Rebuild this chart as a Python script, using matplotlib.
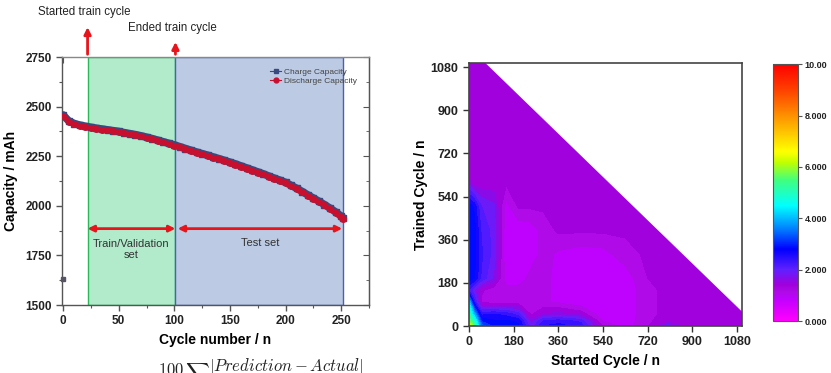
import numpy as np
import matplotlib
matplotlib.use("Agg")
import matplotlib.pyplot as plt
from matplotlib.colors import LinearSegmentedColormap, Normalize
from matplotlib.patches import Polygon
from matplotlib.cm import ScalarMappable
from matplotlib.lines import Line2D

plt.rcParams['font.family'] = ['Liberation Sans', 'DejaVu Sans']

# ---------------- Left chart data ----------------
cycles = [0, 5, 10, 15, 20, 25, 30, 35, 40, 45, 50, 55, 60, 65, 70, 75, 80, 85, 90, 95,
          100, 105, 110, 115, 120, 125, 130, 135, 140, 145, 150, 155, 160, 165, 170, 175,
          180, 185, 190, 195, 200, 205, 210, 215, 220, 225, 230, 235, 240, 245, 250, 252]
discharge_capacity = [2455, 2425, 2412, 2404, 2398, 2393, 2388, 2384, 2380, 2376, 2372, 2366,
                      2361, 2356, 2350, 2343, 2336, 2328, 2320, 2312, 2304, 2295, 2286, 2277,
                      2268, 2260, 2252, 2243, 2235, 2226, 2217, 2208, 2198, 2188, 2178, 2168,
                      2158, 2147, 2136, 2126, 2115, 2100, 2085, 2069, 2052, 2036, 2020, 2003,
                      1985, 1966, 1945, 1935]
charge_capacity = [2458, 2428, 2415, 2407, 2401, 2396, 2391, 2387, 2383, 2379, 2375, 2369,
                   2364, 2359, 2353, 2346, 2339, 2331, 2323, 2315, 2307, 2298, 2289, 2280,
                   2271, 2263, 2255, 2246, 2238, 2229, 2220, 2211, 2201, 2191, 2181, 2171,
                   2161, 2150, 2139, 2129, 2118, 2103, 2088, 2072, 2055, 2039, 2023, 2006,
                   1988, 1969, 1948, 1938]
outlier_cycle = [0]
outlier_capacity = [1630]
train_start, train_end, test_end = 22, 101, 252
left_yticks = [1500, 1750, 2000, 2250, 2500, 2750]
left_xticks = [0, 50, 100, 150, 200, 250]

# ---------------- Right chart data ----------------
started = [0, 20, 50, 100, 150, 200, 250, 300, 360, 450, 540, 630, 720, 800, 900, 1000, 1100, 1170]
trained = [0, 20, 50, 100, 150, 200, 300, 400, 500, 600, 700, 800, 900, 1000, 1100]
D = 1.3
mape = [
    [6.6, 5.6, 3.4, 2.9, 2.9, 2.8, 1.8, 2.5, 2.6, 2.4, 1.2, 0.9, 1.2, 1.9, D, D, D, D],
    [5.8, 5.0, 3.0, 2.8, 2.8, 2.7, 1.6, 2.3, 2.4, 2.2, 1.0, 0.85, 1.2, 1.4, D, D, D, D],
    [5.2, 4.0, 2.4, 2.5, 2.4, 2.1, 1.2, 1.5, 1.6, 1.4, 0.8, 0.8, 1.2, D, D, D, D, D],
    [4.2, 2.4, 1.2, 1.1, 1.1, 1.1, 1.1, 1.05, 0.95, 0.8, 0.8, 0.8, 1.2, D, D, D, D, D],
    [2.2, 1.8, 1.3, 1.1, 1.1, 1.1, 1.1, 1.05, 0.95, 0.8, 0.8, 0.8, 1.2, D, D, D, D, D],
    [2.9, 2.8, 2.2, 1.7, 0.85, 0.85, 1.1, 1.1, 0.9, 0.8, 0.8, 0.85, 1.25, D, D, D, D, D],
    [3.0, 2.9, 2.3, 1.9, 0.8, 0.8, 0.85, 1.1, 0.95, 0.85, 0.9, 1.15, D, D, D, D, D, D],
    [3.0, 2.9, 2.2, 1.9, 0.8, 0.8, 0.85, 1.1, D, D, D, D, D, D, D, D, D, D],
    [2.9, 2.7, 2.0, 1.8, 0.9, D, D, D, D, D, D, D, D, D, D, D, D, D],
    [1.6, D, D, D, D, D, D, D, D, D, D, D, D, D, D, D, D, D],
    [D] * 18,
    [D] * 18,
    [D] * 18,
    [D] * 18,
    [D] * 18,
]
right_ticks = [0, 180, 360, 540, 720, 900, 1080]
cbar_ticks = [0, 2, 4, 6, 8, 10]
cbar_labels = ["0.000", "2.000", "4.000", "6.000", "8.000", "10.00"]

# ---------------- Figure ----------------
fig = plt.figure(figsize=(8.31, 3.73), dpi=100)

ax = fig.add_axes([0.0746, 0.1823, 0.3694, 0.6647])
ax.set_xlim(-1, 275)
ax.set_ylim(1500, 2750)
ax.axvspan(train_start, train_end, facecolor='#b2ebcc', edgecolor='#2cb85a', lw=1.0, zorder=1)
ax.axvspan(train_end, test_end, facecolor='#bccbe3', edgecolor='#4a5fb8', lw=1.0, zorder=1)

ax.plot(cycles, charge_capacity, color='#3a4a7e', lw=5.5, marker='s', ms=5,
        label='Charge Capacity', zorder=3, solid_capstyle='round')
ax.plot(cycles, discharge_capacity, color='#c8102e', lw=3.5, marker='o', ms=4,
        label='Discharge Capacity', zorder=4, solid_capstyle='round')
ax.plot(outlier_cycle, outlier_capacity, 's', color='#555566', ms=3.5, zorder=5, clip_on=False)

h1 = Line2D([], [], color='#3a4a7e', lw=0.8, marker='s', ms=3)
h2 = Line2D([], [], color='#c8102e', lw=0.8, marker='o', ms=3.5)
leg = ax.legend([h1, h2], ['Charge Capacity', 'Discharge Capacity'], loc='upper right',
                bbox_to_anchor=(0.985, 0.985), frameon=False, fontsize=6, handlelength=1.4,
                labelspacing=0.15, handletextpad=0.3)
for t in leg.get_texts():
    t.set_color('#444444')

ax.set_xticks(left_xticks)
ax.set_yticks(left_yticks)
ax.set_xticks([25, 75, 125, 175, 225, 275], minor=True)
ax.set_yticks([1625, 1875, 2125, 2375, 2625], minor=True)
ax.tick_params(axis='both', which='major', direction='out', length=4, width=1, color='#555',
               labelsize=8.5, labelcolor='#222')
ax.tick_params(axis='both', which='minor', direction='out', length=2.5, width=0.8, color='#555')
for lab in ax.get_xticklabels() + ax.get_yticklabels():
    lab.set_fontweight('bold')
for s in ax.spines.values():
    s.set_color('#555555')
    s.set_linewidth(1.0)
ax.spines['top'].set_color('#888888')

sx = ax.secondary_xaxis('top')
sx.set_xticks(left_xticks)
sx.set_xticks([25, 75, 125, 175, 225, 275], minor=True)
sx.tick_params(which='major', direction='in', length=4, color='#555', labeltop=False)
sx.tick_params(which='minor', direction='in', length=2.5, color='#555')
sx.spines['top'].set_visible(False)
sy = ax.secondary_yaxis('right')
sy.set_yticks(left_yticks)
sy.set_yticks([1625, 1875, 2125, 2375, 2625], minor=True)
sy.tick_params(which='major', direction='in', length=4, color='#555', labelright=False)
sy.tick_params(which='minor', direction='in', length=2.5, color='#555')
sy.spines['right'].set_color('#555555')

ax.set_xlabel('Cycle number / n', fontsize=10, fontweight='bold', labelpad=4)
ax.set_ylabel('Capacity / mAh', fontsize=10, fontweight='bold', labelpad=5)

# vertical arrows
ax.annotate('', xy=(train_start, 2915), xytext=(train_start, 2750), xycoords='data',
            arrowprops=dict(arrowstyle='-|>', color='#e8141c', lw=2, mutation_scale=10),
            annotation_clip=False)
ax.annotate('', xy=(train_end, 2840), xytext=(train_end, 2750), xycoords='data',
            arrowprops=dict(arrowstyle='-|>', color='#e8141c', lw=2, mutation_scale=10),
            annotation_clip=False)
fig.text(38 / 831, 1 - 12 / 373, 'Started train cycle', fontsize=8.3, color='#222',
         ha='left', va='center')
fig.text(128 / 831, 1 - 28 / 373, 'Ended train cycle', fontsize=8.3, color='#222',
         ha='left', va='center')

# double arrows
ax.annotate('', xy=(train_start, 1885), xytext=(train_end, 1885),
            arrowprops=dict(arrowstyle='<|-|>', color='#e8141c', lw=2, mutation_scale=9,
                            shrinkA=0, shrinkB=0))
ax.annotate('', xy=(train_end + 2, 1885), xytext=(test_end - 1, 1885),
            arrowprops=dict(arrowstyle='<|-|>', color='#e8141c', lw=2, mutation_scale=9,
                            shrinkA=0, shrinkB=0))
ax.text(61.5, 1778, 'Train/Validation\nset', fontsize=8, color='#333', ha='center',
        va='center', linespacing=1.1)
ax.text(177, 1812, 'Test set', fontsize=8, color='#333', ha='center', va='center')

# partially visible formula at bottom (cut off by the figure edge, as in the reference)
fig.text(158 / 831, 1 - 357 / 373,
         r'$\dfrac{100}{n}\sum\dfrac{|Prediction-Actual|}{|Actual|}$',
         math_fontfamily='cm', fontsize=12, ha='left', va='top', color='#222')

# ---------------- Right chart ----------------
cmap = LinearSegmentedColormap.from_list('origin_rainbow', [
    (0.0, '#ff00ff'), (0.085, '#c000ff'), (0.11, '#b00ae8'), (0.14, '#a000dc'),
    (0.20, '#6020ff'), (0.28, '#0000ff'), (0.36, '#0080ff'), (0.45, '#00ffff'),
    (0.55, '#40ff80'), (0.62, '#c0ff00'), (0.66, '#ffff00'), (0.80, '#ff9000'),
    (0.90, '#ff4000'), (1.0, '#ff0000')])
norm = Normalize(0, 10)

ax2 = fig.add_axes([0.5644, 0.126, 0.3285, 0.705])
X, Y = np.meshgrid(started, trained)
Z = np.array(mape)
levels = np.arange(0, 10.01, 0.25)
cs = ax2.contourf(X, Y, Z, levels=levels, cmap=cmap, norm=norm)
clip = Polygon([(0, 0), (0, 1100), (63, 1100), (1100, 60), (1100, 0)], closed=True,
               transform=ax2.transData, facecolor='none', edgecolor='none')
ax2.add_patch(clip)
cs.set_clip_path(clip)
ax2.set_xlim(0, 1100)
ax2.set_ylim(0, 1097)
ax2.set_xticks(right_ticks)
ax2.set_yticks(right_ticks)
ax2.tick_params(direction='out', length=4, width=1, labelsize=9, labelcolor='#222', color='#333')
for lab in ax2.get_xticklabels() + ax2.get_yticklabels():
    lab.set_fontweight('bold')
for s in ax2.spines.values():
    s.set_color('#444444')
    s.set_linewidth(1.2)
ax2.set_xlabel('Started Cycle / n', fontsize=10, fontweight='bold', labelpad=4)
ax2.set_ylabel('Trained Cycle / n', fontsize=10, fontweight='bold', labelpad=2)

cax = fig.add_axes([0.930, 0.139, 0.030, 0.689])
cb = fig.colorbar(ScalarMappable(norm=norm, cmap=cmap), cax=cax, ticks=cbar_ticks)
cb.set_ticklabels(cbar_labels)
cb.outline.set_edgecolor('#555555')
cb.outline.set_linewidth(0.8)
cax.tick_params(labelsize=6.5, length=3, width=0.8, color='#555', labelcolor='#222', pad=2)
for lab in cax.get_yticklabels():
    lab.set_fontweight('bold')

fig.savefig('out.png', dpi=100)
